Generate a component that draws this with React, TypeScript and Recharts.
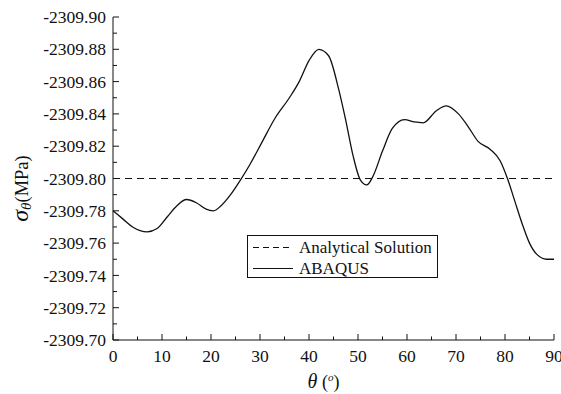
import { LineChart, Line, XAxis, YAxis, ReferenceLine } from 'recharts';

// theta (deg) and ABAQUS hoop stress (MPa)
const angles = [
  0, 2, 4, 7, 9, 11, 13, 15, 17, 19, 20.5, 22, 24, 26, 28, 30.5, 33, 36, 38, 40,
  42, 44, 46, 47.5, 49, 50.5, 51.8, 53, 55, 57, 59.5, 61.5, 63.3, 66, 68, 70.5,
  72.5, 74.5, 77, 79, 80.5, 82, 83.5, 85, 86.5, 88.5, 90,
];
const abaqus = [
  -2309.78, -2309.775, -2309.77, -2309.767, -2309.769, -2309.776, -2309.783,
  -2309.787, -2309.785, -2309.781, -2309.78, -2309.783, -2309.79, -2309.799,
  -2309.809, -2309.823, -2309.837, -2309.85, -2309.86, -2309.873, -2309.88,
  -2309.876, -2309.856, -2309.836, -2309.814, -2309.799, -2309.796, -2309.801,
  -2309.817, -2309.831, -2309.8365, -2309.835, -2309.8345, -2309.842, -2309.845,
  -2309.84, -2309.832, -2309.823, -2309.818, -2309.811, -2309.8, -2309.786,
  -2309.772, -2309.76, -2309.753, -2309.75, -2309.75,
];
const analytical = -2309.8;

const xTicks = [0, 5, 10, 15, 20, 25, 30, 35, 40, 45, 50, 55, 60, 65, 70, 75, 80, 85, 90];
const yTicks = [
  -2309.9, -2309.89, -2309.88, -2309.87, -2309.86, -2309.85, -2309.84, -2309.83,
  -2309.82, -2309.81, -2309.8, -2309.79, -2309.78, -2309.77, -2309.76, -2309.75,
  -2309.74, -2309.73, -2309.72, -2309.71, -2309.7,
];

const data = angles.map((a, i) => ({ theta: a, abaqus: abaqus[i] }));

const font = 'Liberation Serif';
const ink = '#111';

const isMajorX = (v: number) => Math.round(v) % 10 === 0;
const isMajorY = (v: number) => Math.round(Math.abs(v) * 100) % 2 === 0;

const LeftTick = ({ x, y, payload }: any) => {
  const major = isMajorY(payload.value);
  return (
    <g>
      <line x1={x} x2={x + (major ? 6 : 4)} y1={y} y2={y} stroke={ink} />
      {major && (
        <text x={x - 7} y={y} dy="0.35em" textAnchor="end" fontFamily={font} fontSize={17.5} fill={ink}>
          {payload.value.toFixed(2)}
        </text>
      )}
    </g>
  );
};

const RightTick = ({ x, y }: any) => <line x1={x} x2={x - 2} y1={y} y2={y} stroke={ink} />;

const BottomTick = ({ x, y, payload }: any) => {
  const major = isMajorX(payload.value);
  return (
    <g>
      <line x1={x} x2={x} y1={y} y2={y - (major ? 6 : 3.5)} stroke={ink} />
      {major && (
        <text x={x} y={y + 21.5} textAnchor="middle" fontFamily={font} fontSize={17.5} fill={ink}>
          {payload.value}
        </text>
      )}
    </g>
  );
};

const TopTick = ({ x, y }: any) => <line x1={x} x2={x} y1={y} y2={y + 1.5} stroke="#777" />;

const XTitle = ({ viewBox }: any) => (
  <text x={viewBox.x + viewBox.width / 2 - 10} y={viewBox.y + 48} textAnchor="middle" fontFamily={font} fill={ink}>
    <tspan fontStyle="italic" fontSize={20}>θ</tspan>
    <tspan fontSize={18}> (</tspan>
    <tspan fontStyle="italic" fontSize={11} dy={-7}>o</tspan>
    <tspan fontSize={18} dy={7}>)</tspan>
  </text>
);

const YTitle = ({ viewBox }: any) => {
  const cx = 28;
  const cy = viewBox.y + viewBox.height / 2 + 10;
  return (
    <text x={cx} y={cy} transform={`rotate(-90, ${cx}, ${cy})`} textAnchor="middle" fontFamily={font} fill={ink}>
      <tspan fontStyle="italic" fontSize={24}>σ</tspan>
      <tspan fontStyle="italic" fontSize={15} dy={3}>θ</tspan>
      <tspan fontSize={18.5} dy={-3}>(MPa)</tspan>
    </text>
  );
};

const LegendBox = () => (
  <svg width={192} height={44} style={{ position: 'absolute', left: 247, top: 235 }}>
    <rect x={0.5} y={0.5} width={190} height={42} fill="#fff" stroke={ink} />
    <line x1={6} x2={46} y1={12.5} y2={12.5} stroke={ink} strokeDasharray="6 4" />
    <text x={52} y={18} fontFamily={font} fontSize={17} fill={ink}>Analytical Solution</text>
    <line x1={6} x2={46} y1={33.5} y2={33.5} stroke={ink} />
    <text x={52} y={38.5} fontFamily={font} fontSize={17} fill={ink}>ABAQUS</text>
  </svg>
);

export default function App() {
  return (
    <div style={{ position: 'absolute', left: 0, top: 0, width: 561, height: 394, background: '#fff' }}>
      <LineChart width={561} height={394} data={data} margin={{ top: 17, right: 7, left: 0, bottom: 0 }}>
        <XAxis
          dataKey="theta"
          type="number"
          domain={[0, 90]}
          ticks={xTicks}
          interval={0}
          height={54}
          tickSize={0}
          tickMargin={0}
          tickLine={false}
          axisLine={{ stroke: ink }}
          tick={<BottomTick />}
          label={<XTitle />}
        />
        <XAxis
          xAxisId="top"
          orientation="top"
          type="number"
          domain={[0, 90]}
          ticks={xTicks}
          interval={0}
          height={0}
          tickSize={0}
          tickMargin={0}
          tickLine={false}
          axisLine={{ stroke: ink }}
          tick={<TopTick />}
        />
        <YAxis
          type="number"
          domain={[-2309.9, -2309.7]}
          reversed
          ticks={yTicks}
          interval={0}
          width={113}
          tickSize={0}
          tickMargin={0}
          tickLine={false}
          axisLine={{ stroke: ink }}
          tick={<LeftTick />}
          label={<YTitle />}
        />
        <YAxis
          yAxisId="right"
          orientation="right"
          type="number"
          domain={[-2309.9, -2309.7]}
          reversed
          ticks={yTicks}
          interval={0}
          width={0}
          tickSize={0}
          tickMargin={0}
          tickLine={false}
          axisLine={{ stroke: ink }}
          tick={<RightTick />}
        />
        <ReferenceLine y={analytical} stroke={ink} strokeWidth={1.2} strokeDasharray="7 5" />
        <Line
          type="monotone"
          dataKey="abaqus"
          stroke={ink}
          strokeWidth={1.3}
          dot={false}
          isAnimationActive={false}
        />
      </LineChart>
      <LegendBox />
    </div>
  );
}
